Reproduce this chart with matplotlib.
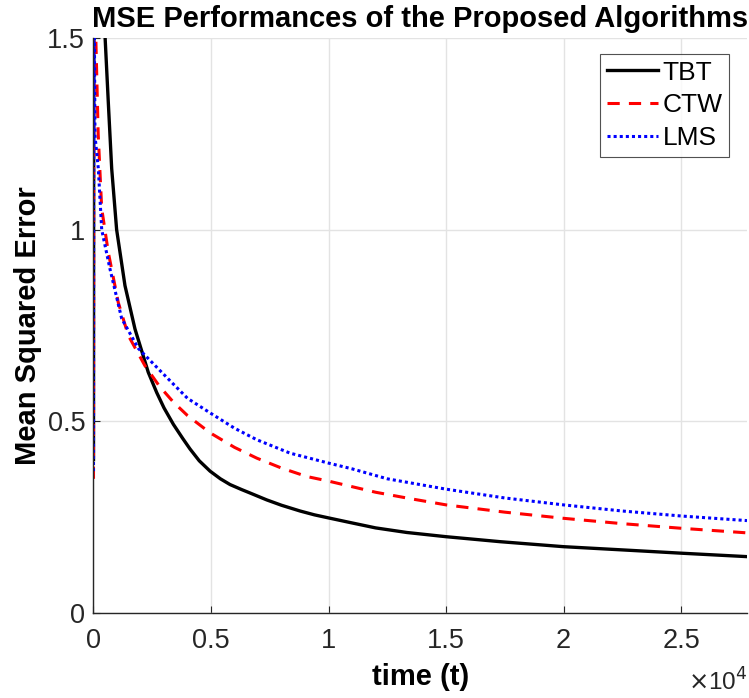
import matplotlib
matplotlib.use("Agg")
import matplotlib.pyplot as plt

# MSE curves (time, value)
t_tbt = [1, 15, 60, 200, 490, 630, 775, 985, 1340, 1765, 2330, 2690, 3000, 3400, 3800,
         4105, 4500, 4960, 5400, 5810, 6300, 6660, 7370, 8000, 8790, 9400, 10000, 10915,
         12000, 13330, 15000, 17300, 19990, 22960, 25000, 27800]
mse_tbt = [0.40, 1.90, 2.40, 2.00, 1.507, 1.333, 1.159, 1.0, 0.854, 0.741, 0.628, 0.575,
           0.535, 0.492, 0.455, 0.428, 0.397, 0.370, 0.350, 0.335, 0.322, 0.313, 0.295,
           0.281, 0.266, 0.256, 0.248, 0.236, 0.222, 0.210, 0.199, 0.186, 0.173, 0.163,
           0.156, 0.147]

t_ctw = [1, 8, 20, 50, 100, 200, 350, 630, 1055, 1480, 2190, 2800, 3400, 4000, 4960,
         6000, 6945, 8000, 9075, 10000, 12000, 13500, 15000, 17500, 19990, 22500, 25000,
         27800]
mse_ctw = [0.35, 1.30, 1.70, 1.62, 1.50, 1.25, 1.055, 0.941, 0.81, 0.724, 0.645, 0.592,
           0.550, 0.515, 0.470, 0.432, 0.404, 0.378, 0.356, 0.344, 0.315, 0.298, 0.282,
           0.263, 0.247, 0.233, 0.221, 0.209]

t_lms = [1, 8, 20, 40, 64, 205, 350, 700, 1200, 1910, 2900, 3400, 4000, 4960, 6000,
         6945, 8360, 10000, 11000, 12500, 15000, 17500, 19990, 22500, 25000, 27800]
mse_lms = [0.37, 1.20, 1.55, 1.50, 1.245, 1.16, 1.0, 0.898, 0.768, 0.69, 0.628, 0.597,
           0.560, 0.522, 0.482, 0.452, 0.417, 0.391, 0.376, 0.350, 0.323, 0.300, 0.282,
           0.266, 0.253, 0.241]

x_ticks = [0, 5000, 10000, 15000, 20000, 25000]
x_tick_labels = ["0", "0.5", "1", "1.5", "2", "2.5"]
y_ticks = [0, 0.5, 1, 1.5]
y_tick_labels = ["0", "0.5", "1", "1.5"]

plt.rcParams["font.family"] = ["Liberation Sans", "DejaVu Sans"]

fig = plt.figure(figsize=(7.49, 6.98), dpi=100)
ax = fig.add_axes([0.1248, 0.1218, 0.8725, 0.8238])

ax.plot(t_tbt, mse_tbt, color="black", lw=2.4, ls="-", label="TBT")
ax.plot(t_ctw, mse_ctw, color="red", lw=2.2, ls=(0, (4, 3)), label="CTW")
ax.plot(t_lms, mse_lms, color="blue", lw=2.2, ls=(0, (1, 1)), label="LMS")

ax.set_xlim(0, 27800)
ax.set_ylim(0, 1.5)
ax.set_xticks(x_ticks)
ax.set_xticklabels(x_tick_labels)
ax.set_yticks(y_ticks)
ax.set_yticklabels(y_tick_labels)
ax.tick_params(direction="in", length=5, width=0.8, colors="#262626", labelsize=19.5,
               labelcolor="#262626")
ax.tick_params(axis="x", pad=11)
ax.tick_params(axis="y", pad=6)
ax.grid(True, color="#e3e3e3", lw=1)
ax.set_axisbelow(True)
for side in ["top", "right"]:
    ax.spines[side].set_visible(False)
for side in ["left", "bottom"]:
    ax.spines[side].set_color("#262626")
    ax.spines[side].set_linewidth(1)

ax.set_title("MSE Performances of the Proposed Algorithms", fontsize=21, fontweight="bold",
             pad=8)
ax.set_xlabel("time (t)", fontsize=21, fontweight="bold", labelpad=6)
ax.set_ylabel("Mean Squared Error", fontsize=21, fontweight="bold", labelpad=4)
fig.text(0.998, 0.004, r"$\times$10$^4$", ha="right", va="bottom", fontsize=17.5,
         color="#262626")

leg = ax.legend(loc="upper right", bbox_to_anchor=(0.9725, 0.972), borderaxespad=0,
                fontsize=19, frameon=True, fancybox=False, edgecolor="#262626",
                handlelength=1.95, handletextpad=0.15, borderpad=0.25, labelspacing=0.33)
leg.get_frame().set_linewidth(0.8)

fig.savefig("out.png", dpi=100)
